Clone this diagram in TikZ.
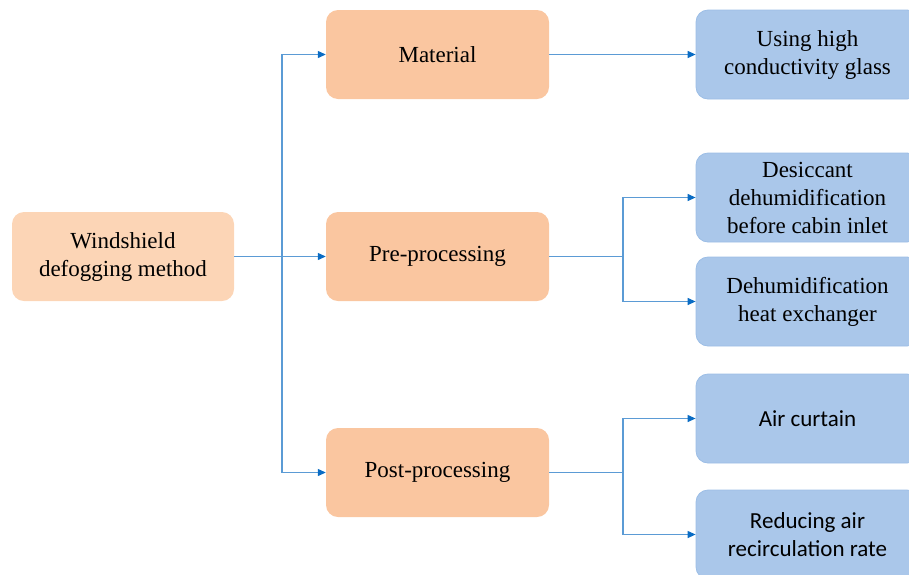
\documentclass[tikz,border=0pt]{standalone}
\usepackage{fontspec}
\setmainfont{Liberation Serif}
\newfontfamily\calfont{Carlito}
\usetikzlibrary{arrows.meta}
\definecolor{rootfill}{HTML}{FCD5B6}
\definecolor{midfill}{HTML}{FAC6A0}
\definecolor{leaffill}{HTML}{AAC7EA}
\definecolor{leafedge}{HTML}{9CBEE6}
\definecolor{linkblue}{HTML}{5B9BD5}
\definecolor{tipblue}{HTML}{0A6CC4}
\tikzset{%
    box/.style={rounded corners=12pt,minimum width=223pt,minimum height=89pt,
        align=center,inner sep=0pt,font=\fontsize{23}{28}\selectfont},
    rootbox/.style={box,fill=rootfill,minimum width=222pt},
    midbox/.style={box,fill=midfill},
    leafbox/.style={box,fill=leaffill,draw=leafedge,line width=0.8pt},
    link/.style={draw=linkblue,line width=1.2pt,
        -{Triangle[length=8pt,width=7pt,color=tipblue]}}
}

\begin{document}
\begin{tikzpicture}[x=1pt,y=-1pt]
            \useasboundingbox (0,0) rectangle (909,574);
            \node[rootbox] (root) at (123,256.5){Windshield\\defogging method};
            \node[midbox] (mat) at (437.5,54.5){Material};
            \node[midbox] (pre) at (437.5,256.5){Pre-processing};
            \node[midbox] (post) at (437.5,472.5){Post-processing};

            \node[leafbox] (glass) at (807.5,54.5){Using high\\conductivity glass};
            \node[leafbox] (desic) at (807.5,197.5){Desiccant\\dehumidification\\before cabin inlet};
            \node[leafbox] (hex) at (807.5,301.5){Dehumidification\\heat exchanger};
            \node[leafbox,font=\calfont\fontsize{23}{28}\selectfont] (curtain) at (807.5,418.5){Air curtain};
            \node[leafbox,font=\calfont\fontsize{23}{28}\selectfont] (recirc) at (807.5,534.5){Reducing air\\recirculation rate};

            \coordinate (j1) at (282,256.5);
            \coordinate (j2) at (623,256.5);
            \coordinate (j3) at (623,472.5);
            % root to the three methods
            \draw[link] (root.east) -- (pre.west);
            \draw[link] (j1) |- (mat.west);
            \draw[link] (j1) |- (post.west);
            % methods to measures
            \draw[link] (mat.east) -- (glass.west);
            \draw[draw=linkblue,line width=1.2pt] (pre.east) -- (j2);
            \draw[link] (j2) |- (desic.west);
            \draw[link] (j2) |- (hex.west);
            \draw[draw=linkblue,line width=1.2pt] (post.east) -- (j3);
            \draw[link] (j3) |- (curtain.west);
            \draw[link] (j3) |- (recirc.west);
        \end{tikzpicture}
\end{document}
